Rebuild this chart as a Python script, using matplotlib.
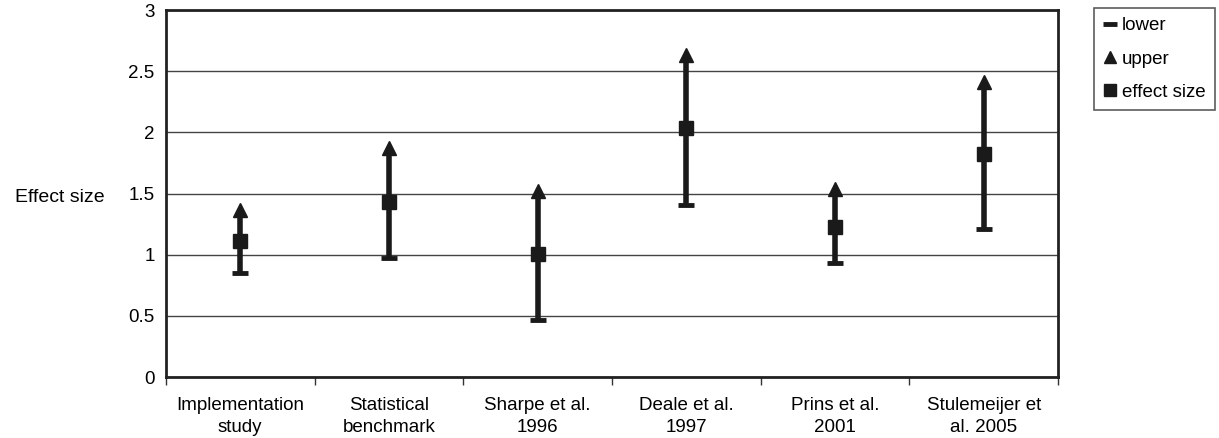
import numpy as np
import matplotlib.pyplot as plt
from matplotlib.ticker import FixedLocator, NullFormatter

plt.rcParams['font.family'] = ['Liberation Sans', 'DejaVu Sans']

studies = ['Implementation\nstudy', 'Statistical\nbenchmark', 'Sharpe et al.\n1996',
           'Deale et al.\n1997', 'Prins et al.\n2001', 'Stulemeijer et\nal. 2005']
lower = [0.85, 0.97, 0.47, 1.41, 0.93, 1.21]
upper = [1.37, 1.87, 1.52, 2.63, 1.54, 2.41]
effect = [1.11, 1.43, 1.01, 2.04, 1.23, 1.82]

fig = plt.figure(figsize=(12.19, 4.38), dpi=100)
ax = fig.add_axes([0.136, 0.139, 0.732, 0.838])

x = np.arange(len(studies))
# high-low lines
ax.vlines(x, lower, upper, colors='#1a1a1a', lw=4, zorder=3)
ax.plot(x, lower, ls='none', marker='_', ms=12, mew=3.5, color='#1a1a1a', label='lower', zorder=4)
ax.plot(x, upper, ls='none', marker='^', ms=10, color='#1a1a1a', label='upper', zorder=4)
ax.plot(x, effect, ls='none', marker='s', ms=10, color='#1a1a1a', label='effect size', zorder=5)

ax.set_xlim(-0.5, len(studies) - 0.5)
ax.set_ylim(0, 3)
ax.set_yticks(np.arange(0, 3.01, 0.5))
ax.set_yticklabels(['0', '0.5', '1', '1.5', '2', '2.5', '3'])
ax.yaxis.grid(True, color='#444444', lw=1)
ax.set_axisbelow(True)

ax.xaxis.set_major_locator(FixedLocator(np.arange(-0.5, len(studies), 1)))
ax.xaxis.set_major_formatter(NullFormatter())
ax.xaxis.set_minor_locator(FixedLocator(x))
ax.set_xticklabels(studies, minor=True, linespacing=1.45)
ax.tick_params(axis='x', which='major', length=6, width=1, direction='out', color='#333333')
ax.tick_params(axis='x', which='minor', length=0, pad=14, labelsize=13.5)
ax.tick_params(axis='y', length=0, pad=8, labelsize=13.5)

for s in ax.spines.values():
    s.set_linewidth(2)
    s.set_color('#222222')

ax.set_ylabel('Effect size', rotation=0, fontsize=14, va='center', ha='center')
ax.yaxis.set_label_coords(-0.119, 0.49)

leg = fig.legend(loc='upper left', bbox_to_anchor=(1094 / 1219, 1 - 8 / 438),
                 fontsize=13.5, frameon=True, fancybox=False, handlelength=0.7,
                 handletextpad=0.3, borderpad=0.5, labelspacing=0.85, borderaxespad=0,
                 markerscale=0.85)
leg.get_frame().set_edgecolor('#333333')
leg.get_frame().set_linewidth(1.2)

fig.savefig('out.png', dpi=100)
